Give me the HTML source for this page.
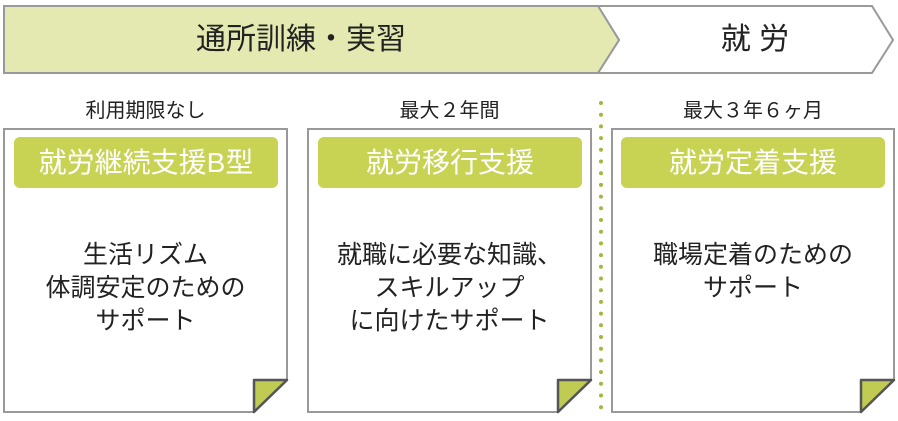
<!DOCTYPE html>
<html><head><meta charset="utf-8"><style>
html,body{margin:0;padding:0;background:#fff;}
body{width:898px;height:421px;position:relative;overflow:hidden;font-family:"Liberation Sans","Noto Sans CJK JP",sans-serif;}
.t{position:absolute;text-align:center;color:#222;white-space:nowrap;}
.lab{position:absolute;background:#c8d253;border-radius:6px;color:#fff;font-size:28px;text-align:center;line-height:51px;height:51px;}
</style></head><body>
<svg width="898" height="421" style="position:absolute;left:0;top:0">
<polygon points="872,6 893,40 872,73 598,73 619,40 598,6" fill="#fff" stroke="#999" stroke-width="2"/>
<polygon points="4,6 598,6 619,40 598,73 4,73" fill="#e3e9b0" stroke="#999" stroke-width="2"/>
<g fill="#fff" stroke="#999" stroke-width="2">
<polygon points="4,129 287,129 287,380 254,412 4,412"/>
<polygon points="308,129 591,129 591,380 558,412 308,412"/>
<polygon points="612,129 894,129 894,380 861,412 612,412"/>
</g>
<g fill="#bfcb52" stroke="#555" stroke-width="2.5" stroke-linejoin="round">
<polygon points="254,380 287,380 254,412"/>
<polygon points="558,380 591,380 558,412"/>
<polygon points="861,380 894,380 861,412"/>
</g>
<line x1="601" y1="103" x2="601" y2="412" stroke="#aab33c" stroke-width="4" stroke-linecap="round" stroke-dasharray="0 11.7"/>
</svg>
<div class="t" style="left:4px;width:594px;top:20px;font-size:30px;line-height:40px;">通所訓練・実習</div>
<div class="t" style="left:635px;width:240px;top:20px;font-size:30px;line-height:40px;">就 労</div>
<div class="t" style="left:4px;width:283px;top:98px;font-size:20px;line-height:26px;">利用期限なし</div>
<div class="t" style="left:308px;width:283px;top:98px;font-size:20px;line-height:26px;">最大２年間</div>
<div class="t" style="left:612px;width:282px;top:98px;font-size:20px;line-height:26px;">最大３年６ヶ月</div>
<div class="lab" style="left:14px;top:137px;width:264px;">就労継続支援B型</div>
<div class="lab" style="left:318px;top:137px;width:264px;">就労移行支援</div>
<div class="lab" style="left:621px;top:137px;width:264px;">就労定着支援</div>
<div class="t" style="left:4px;width:283px;top:239px;font-size:25px;line-height:33px;">生活リズム<br>体調安定のための<br>サポート</div>
<div class="t" style="left:308px;width:283px;top:239px;font-size:25px;line-height:33px;">就職に必要な知識、<br>スキルアップ<br>に向けたサポート</div>
<div class="t" style="left:612px;width:282px;top:239px;font-size:25px;line-height:33px;">職場定着のための<br>サポート</div>
</body></html>
